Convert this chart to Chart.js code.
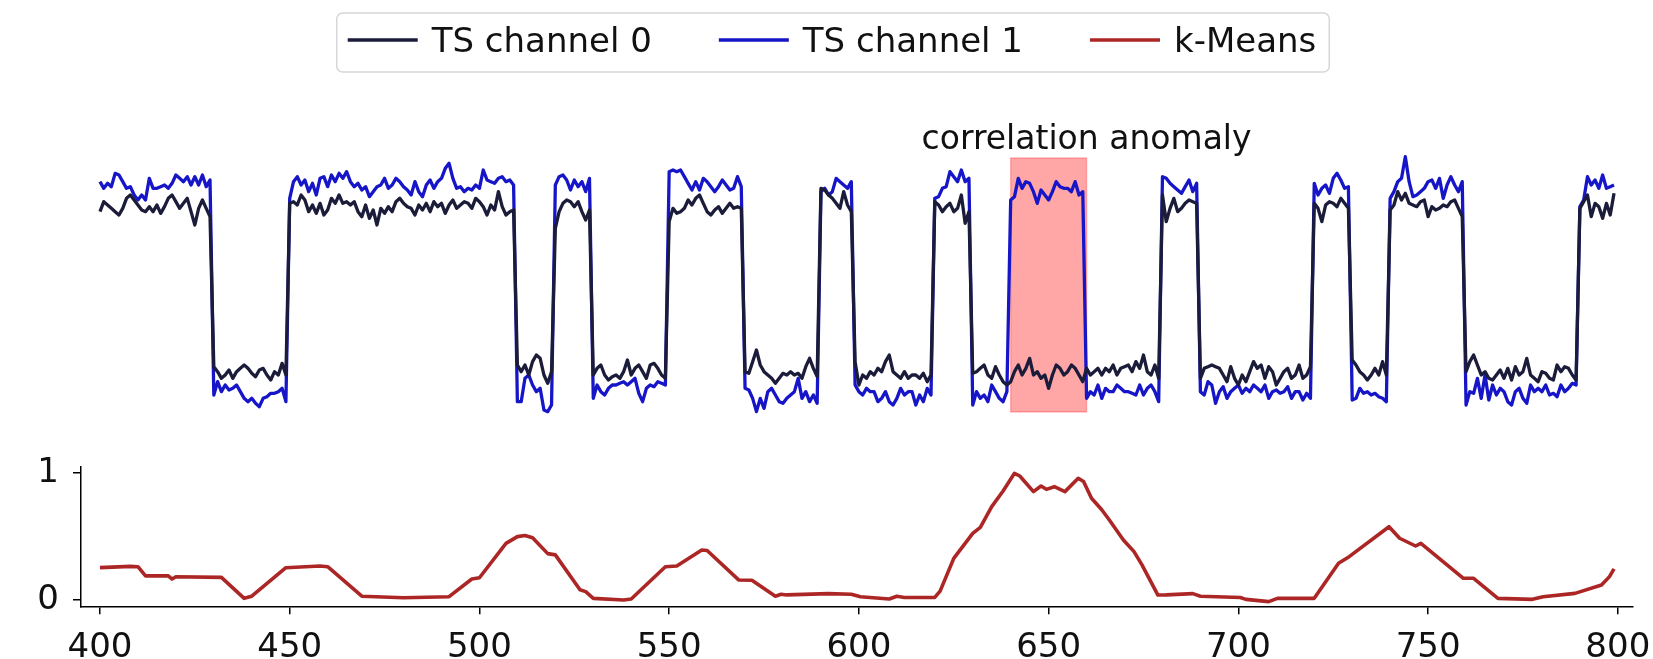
<!DOCTYPE html>
<html>
<head>
<meta charset="utf-8">
<script src="https://cdn.jsdelivr.net/npm/chart.js@4.4.1/dist/chart.umd.min.js"></script>
<style>
html,body{margin:0;padding:0;background:#fff;overflow:hidden;}
#wrap{position:relative;width:1653px;height:659px;background:#fff;}
canvas{position:absolute;left:0;}
#top{top:0;width:1653px;height:440px;}
#bot{top:440px;width:1653px;height:219px;}
</style>
</head>
<body>
<div id="wrap">
<canvas id="top" width="1653" height="440"></canvas>
<canvas id="bot" width="1653" height="219"></canvas>
</div>
<script>
// ---------- data ----------
const seriesNames = ['TS channel 0', 'TS channel 1', 'k-Means'];
const seriesColors = ['#1b1b3a', '#1616c8', '#ad2626'];
const t0 = 400; // first time index of the channel series (one sample per step)

// TS channel 0 (t = 400 .. 799)
const ch0 = [
  235,265,255,245,235,225,245,275,285,270, 255,240,235,250,235,255,230,250,275,285,
  265,245,260,275,235,195,245,270,245,220,
  -230,-245,-265,-255,-240,-265,-245,-235,-225,-235, -250,-260,-240,-235,-255,-270,-245,-255,-220,-255,
  260,265,255,285,270,235,255,230,260,225, 240,275,260,285,260,265,255,265,235,220,
  255,215,240,195,245,230,250,235,265,275, 260,250,245,225,255,240,260,235,265,250,
  260,230,255,270,245,255,265,260,245,275, 265,250,225,255,240,295,250,225,235,240,
  -225,-245,-225,-255,-215,-195,-205,-255,-280,-245,
  185,235,260,270,265,250,265,235,210,240,
  -255,-235,-225,-255,-270,-260,-255,-265,-245,-210, -255,-235,-225,-245,-265,-225,-220,-235,-255,-265,
  205,245,230,235,245,270,255,275,285,260, 235,225,240,250,230,245,260,245,250,245,
  -245,-250,-215,-180,-225,-245,-255,-265,-280,-265, -250,-255,-245,-255,-250,-265,-230,-205,-235,-260,
  305,300,285,275,260,245,295,255,235,
  -215,-285,-255,-265,-245,-255,-235,-245,-215,-195,-245,
  -255,-265,-245,-265,-255,-255,-265,-250,-275,-255,
  265,255,235,250,260,235,245,285,200,235,
  -250,-245,-235,-225,-255,-265,-230,-255,-275,-285,
  -275,-245,-225,-255,-235,-205,-255,-245,-265,-255, -295,-255,-225,-235,-255,-245,-225,-235,-255,-275,
  -235,-255,-245,-235,-255,-235,-245,-225,-255,-235, -230,-225,-245,-215,-235,-195,-245,-255,-225,-265,
  285,205,245,275,235,245,260,270,265,260,
  -265,-235,-230,-225,-230,-235,-255,-275,-230,-265, -285,-255,-275,-245,-215,-235,-225,-265,-230,-245,
  -285,-265,-245,-235,-265,-255,-225,-265,-255,-230,
  260,245,205,255,265,260,250,275,260,245,
  -210,-225,-245,-255,-270,-255,-235,-255,-215,-255,
  240,255,295,270,290,260,255,250,265,270, 220,250,240,245,255,250,265,270,245,220,
  -245,-215,-195,-225,-255,-245,-265,-270,-255,-240, -265,-235,-270,-230,-255,-245,-205,-255,-265,-275,
  -245,-250,-265,-270,-225,-245,-230,-235,-255,-270,
  245,265,285,220,260,250,215,260,225,290
];

// TS channel 1 (t = 400 .. 799)
const ch1 = [
  325,305,320,310,350,345,325,305,310,285, 270,285,270,335,305,305,310,315,305,320,
  345,335,325,340,315,340,315,345,310,330,
  -315,-275,-305,-285,-300,-295,-285,-305,-325,-335, -325,-340,-350,-325,-320,-310,-310,-305,-295,-335,
  275,325,340,315,330,295,320,285,335,340, 310,345,325,350,335,355,325,310,320,300,
  310,280,295,310,315,335,305,315,335,325, 310,300,285,325,295,280,315,330,305,325,
  335,365,380,335,305,310,295,305,300,315, 305,360,330,325,320,335,340,325,330,315,
  -335,-335,-265,-255,-285,-305,-295,-360,-365,-345,
  315,340,345,330,300,330,310,325,295,335,
  -325,-285,-305,-315,-295,-285,-285,-280,-275,-285, -275,-265,-310,-335,-295,-285,-290,-275,-280,-285,
  355,360,355,360,340,320,300,325,300,335, 325,310,295,310,330,315,300,305,340,310,
  -295,-300,-325,-365,-325,-355,-305,-295,-315,-335, -340,-325,-315,-305,-265,-325,-305,-335,-315,-340,
  295,305,285,295,335,325,315,305,325,
  -285,-305,-315,-295,-305,-305,-335,-325,-305,-335,-345,
  -325,-295,-315,-305,-305,-345,-315,-335,-295,-315,
  275,280,305,310,355,340,325,360,325,335,
  -345,-305,-325,-315,-335,-285,-305,-325,-335,-305,
  270,280,335,305,325,320,295,260,300,285, 270,295,325,310,305,305,295,325,285,295,
  -325,-305,-315,-285,-325,-295,-305,-305,-285,-295, -305,-305,-310,-315,-285,-315,-295,-285,-305,-335,
  340,335,320,310,300,290,310,330,295,320,
  -305,-315,-275,-285,-340,-305,-290,-325,-305,-295, -285,-310,-295,-305,-285,-295,-305,-285,-325,-305,
  -300,-310,-305,-290,-325,-305,-305,-330,-310,-325,
  320,285,305,315,290,335,350,330,305,310,
  -330,-325,-295,-310,-305,-315,-310,-320,-325,-335,
  275,295,325,335,400,325,280,285,295,305, 325,330,305,335,275,315,340,315,295,325,
  -345,-305,-310,-265,-325,-255,-330,-285,-315,-295, -305,-335,-345,-305,-295,-325,-340,-285,-305,-295,
  -305,-285,-315,-310,-320,-285,-305,-295,-280,-285,
  250,270,340,315,330,305,345,305,310,315
];

// k-Means score (read at its vertices)
const kmX = [400,408,410,412,418,419,420,432,438,440,449,458,460,469,480,492,498,500,507,510,
  512,514,518,520,526.5,528,530,538,540,549,552,558.6,560,568.3,571.8,578,579.5,581,592,598,
  600.4,608,610,612,620,621.4,625,627,630,632,635,638,641,642.4,646,648,649.4,651.5,654.3,657.8,
  659.2,661.3,664,666,669.7,672.5,674.6,678.8,681,688,690,700.5,702,708,710.3,720,726.4,729.2,739.7,742.5,
  746.7,748.1,759.3,762,768.4,777.5,780.3,788.7,795.7,797.8,799];
const kmY = [0.255,0.265,0.262,0.19,0.19,0.165,0.183,0.178,0.013,0.03,0.254,0.267,0.262,0.03,0.018,0.026,0.165,0.175,0.446,0.499,
  0.507,0.49,0.365,0.355,0.08,0.066,0.013,0.0,0.008,0.262,0.268,0.394,0.39,0.158,0.155,0.03,0.045,0.04,0.05,0.045,
  0.026,0.008,0.03,0.02,0.02,0.07,0.328,0.407,0.525,0.572,0.735,0.858,0.997,0.976,0.853,0.897,0.871,0.892,0.853,0.958,
  0.932,0.801,0.71,0.63,0.472,0.381,0.276,0.039,0.04,0.05,0.03,0.02,0.005,-0.013,0.013,0.013,0.289,0.341,0.577,0.486,
  0.425,0.446,0.171,0.171,0.013,0.005,0.026,0.052,0.118,0.184,0.245];

const xTicks = [400,450,500,550,600,650,700,750,800];
const yTicks = [0,1];

// anomaly band
const anomalyStart = 640, anomalyEnd = 660;
const anomalyLow = -366, anomalyHigh = 396;
const anomalyLabel = 'correlation anomaly';
const anomalyLabelX = 660, anomalyLabelY = 423;

// ---------- plugins ----------
const FONT = '"DejaVu Sans", "Liberation Sans", sans-serif';

const anomalyPlugin = {
  id: 'anomaly',
  beforeDatasetsDraw(chart) {
    const {ctx, scales: {x, y}} = chart;
    const l = x.getPixelForValue(anomalyStart), r = x.getPixelForValue(anomalyEnd);
    const t = y.getPixelForValue(anomalyHigh), b = y.getPixelForValue(anomalyLow);
    ctx.save();
    ctx.fillStyle = 'rgba(255,0,0,0.35)';
    ctx.fillRect(l, t, r - l, b - t);
    ctx.strokeStyle = 'rgba(255,0,0,0.25)';
    ctx.lineWidth = 1.5;
    ctx.strokeRect(l, t, r - l, b - t);
    ctx.fillStyle = '#111';
    ctx.font = '33px ' + FONT;
    ctx.textAlign = 'center';
    ctx.textBaseline = 'alphabetic';
    ctx.fillText(anomalyLabel, x.getPixelForValue(anomalyLabelX), y.getPixelForValue(anomalyLabelY));
    ctx.restore();
  }
};

const figLegend = {
  id: 'figLegend',
  afterDraw(chart) {
    const ctx = chart.ctx;
    const lineLen = 70, gap = 14, itemGap = 67, centerX = 832, lineY = 40, baseY = 52;
    ctx.save();
    ctx.font = '34px ' + FONT;
    const widths = seriesNames.map(n => ctx.measureText(n).width);
    let total = itemGap * (seriesNames.length - 1);
    widths.forEach(w => total += lineLen + gap + w);
    let x = centerX - total / 2;
    // frame
    const bx = x - 11, by = 13, bw = total + 24, bh = 59, rr = 6;
    ctx.beginPath();
    ctx.moveTo(bx + rr, by);
    ctx.arcTo(bx + bw, by, bx + bw, by + bh, rr);
    ctx.arcTo(bx + bw, by + bh, bx, by + bh, rr);
    ctx.arcTo(bx, by + bh, bx, by, rr);
    ctx.arcTo(bx, by, bx + bw, by, rr);
    ctx.closePath();
    ctx.fillStyle = 'rgba(255,255,255,0.85)';
    ctx.fill();
    ctx.strokeStyle = '#d6d6d6';
    ctx.lineWidth = 1.5;
    ctx.stroke();
    seriesNames.forEach((n, i) => {
      ctx.beginPath();
      ctx.moveTo(x, lineY);
      ctx.lineTo(x + lineLen, lineY);
      ctx.strokeStyle = seriesColors[i];
      ctx.lineWidth = 3.3;
      ctx.stroke();
      ctx.fillStyle = '#111';
      ctx.textAlign = 'left';
      ctx.textBaseline = 'alphabetic';
      ctx.fillText(n, x + lineLen + gap, baseY);
      x += lineLen + gap + widths[i] + itemGap;
    });
    ctx.restore();
  }
};

// ---------- top panel ----------
const lineDs = (label, values, color) => ({
  label,
  data: values.map((v, i) => ({x: t0 + i, y: v})),
  borderColor: color,
  borderWidth: 3.3,
  pointRadius: 0,
  tension: 0,
  borderJoinStyle: 'round',
  fill: false
});

new Chart(document.getElementById('top'), {
  type: 'line',
  data: {datasets: [lineDs(seriesNames[0], ch0, seriesColors[0]), lineDs(seriesNames[1], ch1, seriesColors[1])]},
  options: {
    responsive: false, animation: false, devicePixelRatio: 1,
    layout: {padding: {left: 81, right: 20, top: 140, bottom: 0}},
    scales: {
      x: {type: 'linear', min: 395, max: 804, display: false},
      y: {min: -450, max: 450, display: false}
    },
    plugins: {legend: {display: false}, tooltip: {enabled: false}}
  },
  plugins: [anomalyPlugin, figLegend]
});

// ---------- bottom panel ----------
const axisCommon = {
  grid: {display: true, drawOnChartArea: false, drawTicks: true, tickLength: 8, color: '#000', lineWidth: 1.5},
  border: {display: true, color: '#000', width: 1.5},
};

new Chart(document.getElementById('bot'), {
  type: 'line',
  data: {datasets: [{
    label: seriesNames[2],
    data: kmX.map((x, i) => ({x, y: kmY[i]})),
    borderColor: seriesColors[2],
    borderWidth: 3.6,
    pointRadius: 0,
    tension: 0,
    borderJoinStyle: 'round',
    fill: false
  }]},
  options: {
    responsive: false, animation: false, devicePixelRatio: 1,
    layout: {padding: {left: 0, right: 20, top: 26.6, bottom: 0}},
    scales: {
      x: Object.assign({
        type: 'linear', min: 395, max: 804,
        afterBuildTicks: s => { s.ticks = xTicks.map(v => ({value: v})); },
        afterFit: s => { s.height = 52.65; s.paddingLeft = 0; s.paddingRight = 0; },
        ticks: {font: {family: FONT, size: 34}, color: '#111', padding: 13, maxRotation: 0, autoSkip: false}
      }, axisCommon),
      y: Object.assign({
        type: 'linear', min: -0.05, max: 1.05,
        afterBuildTicks: s => { s.ticks = yTicks.map(v => ({value: v})); },
        afterFit: s => { s.width = 81; s.paddingTop = 0; s.paddingBottom = 0; },
        ticks: {font: {family: FONT, size: 34}, color: '#111', padding: 14, autoSkip: false}
      }, axisCommon)
    },
    plugins: {legend: {display: false}, tooltip: {enabled: false}}
  }
});
</script>
</body>
</html>
